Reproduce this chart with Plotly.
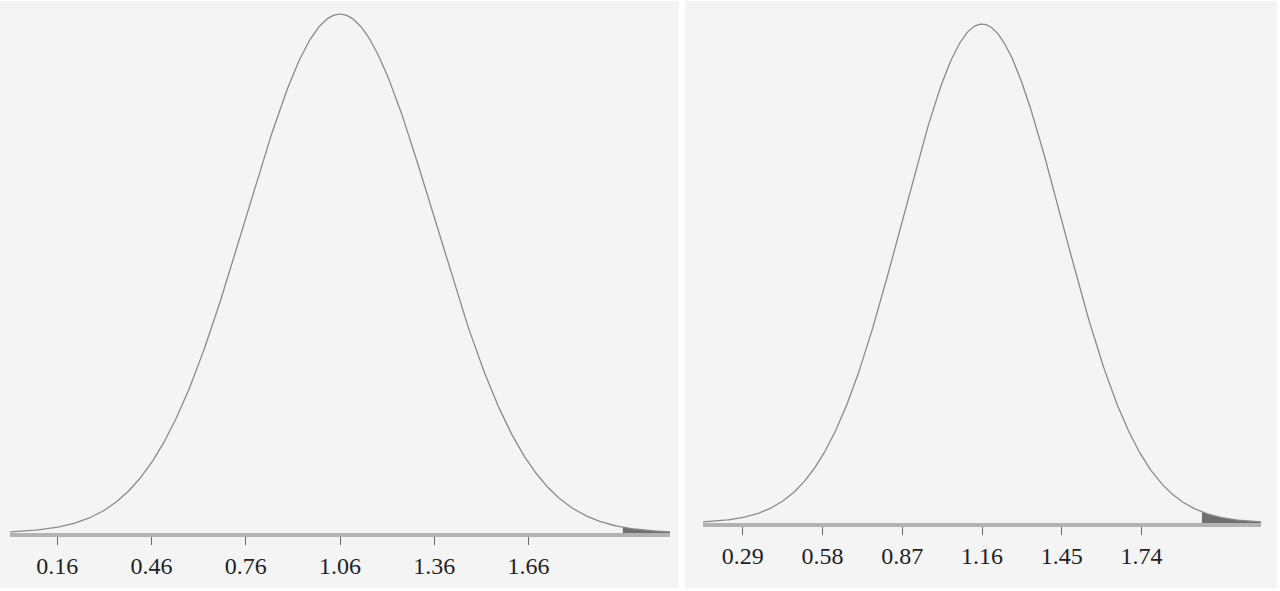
import numpy as np
import plotly.graph_objects as go

W, H = 1280, 591

# values
means = [1.06, 1.16]
sds = [0.30, 0.29]
cutoff = 1.96
left_ticks = [0.16, 0.46, 0.76, 1.06, 1.36, 1.66]
right_ticks = [0.29, 0.58, 0.87, 1.16, 1.45, 1.74]
tick_sets = [left_ticks, right_ticks]

# panel boxes in pixels: (panel x0, x1), (plot x0, x1, top, bottom)
panels = [(0, 679), (685, 1277)]
plots = [(10, 670, 12, 533), (703, 1261, 22, 523)]

BG = "#f4f4f4"


def pdf(x, m, s):
    return np.exp(-0.5 * ((x - m) / s) ** 2) / (s * np.sqrt(2 * np.pi))


fig = go.Figure()
layout = dict(
    width=W, height=H,
    margin=dict(l=0, r=0, t=0, b=0),
    paper_bgcolor="white",
    plot_bgcolor="rgba(0,0,0,0)",
    showlegend=False,
    shapes=[],
)

for i, (m, s) in enumerate(zip(means, sds)):
    lo, hi = m - 3.5 * s, m + 3.5 * s
    peak = pdf(m, m, s)
    xs = np.linspace(lo, hi, 500)
    xt = np.linspace(cutoff, hi, 80)
    sfx = "" if i == 0 else str(i + 1)

    # shaded right tail
    fig.add_trace(go.Scatter(
        x=xt, y=pdf(xt, m, s), mode="lines", fill="tozeroy",
        fillcolor="#6f6f6f", line=dict(width=0, color="#6f6f6f"),
        xaxis="x" + sfx, yaxis="y" + sfx, hoverinfo="skip"))
    # density curve
    fig.add_trace(go.Scatter(
        x=xs, y=pdf(xs, m, s), mode="lines",
        line=dict(color="#8a8a8a", width=1.3),
        xaxis="x" + sfx, yaxis="y" + sfx))

    px0, px1, top, bot = plots[i]
    layout["xaxis" + sfx] = dict(
        domain=[px0 / W, px1 / W], range=[lo, hi], anchor="y" + sfx,
        showgrid=False, zeroline=False,
        showline=True, linecolor="#b3b3b3", linewidth=4,
        ticks="outside", ticklen=8, tickwidth=1, tickcolor="#666666",
        tickvals=tick_sets[i], ticktext=[f"{v:.2f}" for v in tick_sets[i]],
        tickfont=dict(family="Liberation Serif", size=24, color="#222222"),
    )
    layout["yaxis" + sfx] = dict(
        domain=[1 - bot / H, 1 - top / H], range=[0, peak * 1.004],
        anchor="x" + sfx, visible=False,
    )
    a, b = panels[i]
    layout["shapes"].append(dict(
        type="rect", xref="paper", yref="paper",
        x0=a / W, x1=b / W, y0=1 - 588 / H, y1=1 - 1 / H,
        fillcolor=BG, line=dict(width=0), layer="below"))

fig.update_layout(**layout)
# drop the page's default body margin so the figure sits at the top-left corner
fig.write_html("out.html", config={"displayModeBar": False},
               post_script="document.body.style.margin='0';")
